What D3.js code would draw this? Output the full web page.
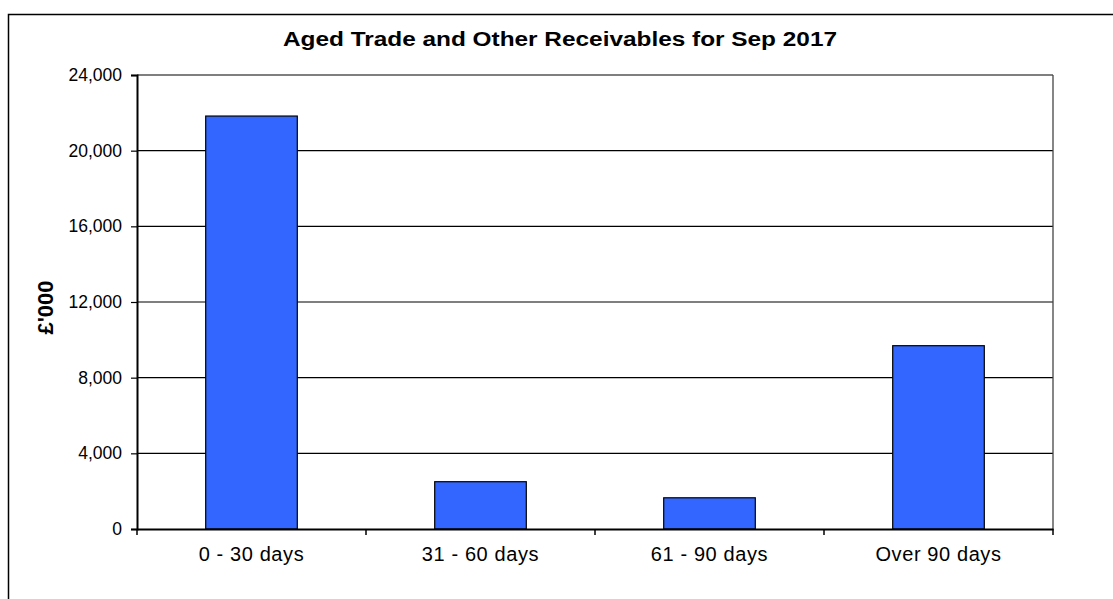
<!DOCTYPE html>
<html><head><meta charset="utf-8">
<script src="https://cdn.jsdelivr.net/npm/d3@7"></script>
<style>body{margin:0;background:#fff;} svg{display:block;}</style>
</head><body>
<script>
const categories = ["0 - 30 days", "31 - 60 days", "61 - 90 days", "Over 90 days"];
const values = [21830, 2500, 1650, 9690];
const yTicks = [0, 4000, 8000, 12000, 16000, 20000, 24000];
const title = "Aged Trade and Other Receivables for Sep 2017";
const yTitle = "£'000";

const W = 1113, H = 599;
const svg = d3.select("body").append("svg").attr("width", W).attr("height", H);
svg.append("rect").attr("x", 8.5).attr("y", 14.5).attr("width", 1200).attr("height", 700)
  .attr("fill", "#fff").attr("stroke", "#000").attr("stroke-width", 1.5);

const L = 137, R = 1053, T = 75, B = 529;
const x = d3.scaleBand().domain(categories).range([L, R]).paddingInner(0.6).paddingOuter(0.3);
const xb = d3.scaleBand().domain(categories).range([L, R]);
const y = d3.scaleLinear().domain([0, 24000]).range([B, T]);

const font = "'Liberation Sans', Arial, sans-serif";

// gridlines
svg.append("g").selectAll("line").data(yTicks.filter(d => d > 0)).join("line")
  .attr("x1", L).attr("x2", R).attr("y1", d => y(d)).attr("y2", d => y(d))
  .attr("stroke", "#000").attr("stroke-width", 1.2);
// right border
svg.append("line").attr("x1", R).attr("x2", R).attr("y1", T).attr("y2", B)
  .attr("stroke", "#444").attr("stroke-width", 1.3);

// bars
svg.append("g").selectAll("rect").data(values).join("rect")
  .attr("x", (d, i) => x(categories[i]))
  .attr("width", x.bandwidth())
  .attr("y", d => y(d))
  .attr("height", d => B - y(d))
  .attr("fill", "#3366FF").attr("stroke", "#000").attr("stroke-width", 1.2);

// y axis
const ya = svg.append("g").attr("transform", `translate(${L},0)`)
  .call(d3.axisLeft(y).tickValues(yTicks).tickFormat(d3.format(",")).tickSize(6).tickPadding(9));
ya.select(".domain").attr("stroke", "#000").attr("stroke-width", 2);
ya.selectAll(".tick line").attr("stroke", "#000").attr("stroke-width", 1.2);
ya.selectAll("text").attr("font-family", font).attr("font-size", 17.5).attr("fill", "#000");

// x axis
const xa = svg.append("g").attr("transform", `translate(0,${B})`)
  .call(d3.axisBottom(xb).tickSize(0).tickPadding(18).tickSizeOuter(0));
xa.select(".domain").attr("stroke", "#000").attr("stroke-width", 2);
xa.selectAll("text").attr("font-family", font).attr("font-size", 20)
  .attr("letter-spacing", "0.6px").attr("fill", "#000");
// category boundary ticks
svg.append("g").selectAll("line").data(d3.range(categories.length + 1)).join("line")
  .attr("x1", i => L + i * xb.step()).attr("x2", i => L + i * xb.step())
  .attr("y1", B).attr("y2", B + 6).attr("stroke", "#000").attr("stroke-width", 1.5);

// title
svg.append("text").attr("x", 283).attr("y", 46)
  .attr("textLength", 554).attr("lengthAdjust", "spacingAndGlyphs")
  .attr("font-family", font).attr("font-weight", "bold").attr("font-size", 20).text(title);
// y title
svg.append("text").attr("transform", "translate(53,307.5) rotate(-90)").attr("text-anchor", "middle")
  .attr("font-family", font).attr("font-weight", "bold").attr("font-size", 22).text(yTitle);
</script>
</body></html>
